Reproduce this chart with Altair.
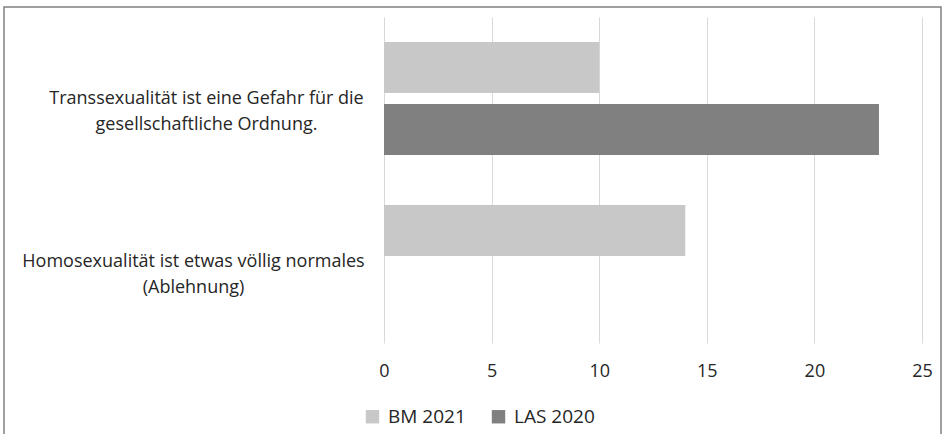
import altair as alt
import pandas as pd

# Statements (line break marks the wrap point of the axis label)
statements = [
    "Transsexualität ist eine Gefahr für die\ngesellschaftliche Ordnung.",
    "Homosexualität ist etwas völlig normales\n(Ablehnung)",
]
series = ["BM 2021", "LAS 2020"]
bm_2021 = [10, 14]
las_2020 = [23, None]
x_ticks = [0, 5, 10, 15, 20, 25]
series_colors = ["#c8c8c8", "#808080"]

rows = []
for stmt, bm, las in zip(statements, bm_2021, las_2020):
    for name, val in zip(series, [bm, las]):
        if val is not None:
            rows.append({"Aussage": stmt, "Studie": name, "Wert": val})
df = pd.DataFrame(rows)

FONT = "Open Sans"
TEXT = "#262626"

bars = alt.Chart(df).mark_bar().encode(
    x=alt.X(
        "Wert:Q",
        scale=alt.Scale(domain=[0, 25], nice=False),
        axis=alt.Axis(
            values=x_ticks,
            title=None,
            grid=True,
            gridColor="#d9d9d9",
            domain=False,
            ticks=False,
            labelFlush=False,
            labelFont=FONT,
            labelFontSize=18,
            labelColor=TEXT,
            labelBaseline="middle",
            labelPadding=28,
        ),
    ),
    y=alt.Y(
        "Aussage:N",
        sort=statements,
        scale=alt.Scale(paddingInner=0, paddingOuter=0),
        axis=alt.Axis(
            title=None,
            domain=False,
            ticks=False,
            grid=False,
            labelExpr="split(datum.value, '\\n')",
            labelAlign="center",
            labelBaseline="middle",
            labelFont=FONT,
            labelFontSize=18,
            labelColor=TEXT,
            labelLineHeight=26,
            labelLimit=500,
            labelPadding={
                "condition": {
                    "test": "indexof(datum.value, 'Transsexualit') === 0",
                    "value": 178,
                },
                "value": 191,
            },
        ),
    ),
    yOffset=alt.YOffset(
        "Studie:N",
        sort=series,
        scale=alt.Scale(paddingInner=0.177, paddingOuter=0.403),
    ),
    color=alt.Color(
        "Studie:N",
        sort=series,
        scale=alt.Scale(domain=series, range=series_colors),
        legend=alt.Legend(
            orient="none",
            legendX=-21,
            legendY=390,
            direction="horizontal",
            title=None,
            symbolType="square",
            symbolSize=180,
            symbolStrokeWidth=0,
            labelFont=FONT,
            labelFontSize=19,
            labelColor=TEXT,
            labelOffset=6,
            columnPadding=23,
        ),
    ),
)

# Outer frame around the whole chart
frame = alt.Chart(pd.DataFrame({"k": [0]})).mark_rect(
    fill=None, stroke="#808080", strokeWidth=1.5
).encode(
    x=alt.value(-380),
    x2=alt.value(557),
    y=alt.value(-10),
    y2=alt.value(440),
)

chart = alt.layer(frame, bars).properties(
    width=538,
    height=326,
    background="white",
    padding={"left": 384, "top": 17, "right": 22, "bottom": 91},
    autosize=alt.AutoSizeParams(type="none"),
).configure_view(stroke=None)

chart.save("out.html", embed_options={"renderer": "svg", "actions": False})
